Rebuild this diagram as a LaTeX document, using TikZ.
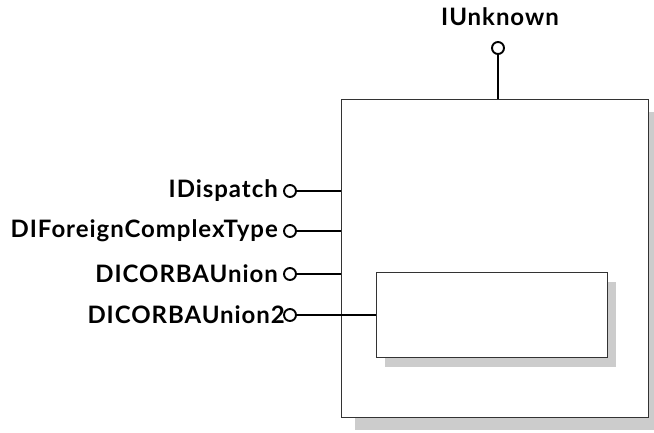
\documentclass[tikz,border=0pt]{standalone}
\usepackage{fontspec}
\setsansfont[LetterSpace=4]{Lato}
\usetikzlibrary{positioning,shadows}
\tikzset{pin/.style={draw, circle, line width=1.9pt, inner sep=0pt, minimum size=12pt, fill=white},
  wire/.style={line width=2.2pt},
  comp/.style={draw=black!80, line width=0.9pt, fill=white, inner sep=0pt},
  lbl/.style={font=\sffamily\bfseries\fontsize{24}{27}\selectfont, inner sep=0pt, anchor=east}}

\begin{document}
\begin{tikzpicture}[x=1pt, y=1pt]
  \useasboundingbox (0,0) rectangle (654,432);
  % component and inner object
  \node[comp, minimum width=307pt, minimum height=318pt,
    drop shadow={shadow xshift=14pt, shadow yshift=-13pt, fill=black!20, opacity=1}] (obj) at (494.5,174) {};
  \node[comp, minimum width=231pt, minimum height=85pt,
    drop shadow={shadow xshift=9pt, shadow yshift=-10pt, fill=black!20, opacity=1}] (inner) at (491.5,117.5) {};
  % IUnknown on top
  \node[pin] (pU) at (498,384) {};
  \node[lbl, anchor=base] (lU) at (500,406) {IUnknown};
  \draw[wire] (pU.south) -- (pU.south |- obj.north);
  % interfaces on the left
  \foreach \n/\y/\t in {pA/241/IDispatch, pB/201/DIForeignComplexType, pC/158/DICORBAUnion}{
    \node[pin] (\n) at (290,\y) {};
    \node[lbl] (l\n) at (278,\y) {\t};
    \draw[wire] (\n.east) -- (\n.east -| obj.west);}
  \node[pin] (pD) at (290,117) {};
  \node[lbl] (lpD) at (285,117) {DICORBAUnion2};
  \draw[wire] (pD.east) -- (pD.east -| inner.west);
\end{tikzpicture}
\end{document}
